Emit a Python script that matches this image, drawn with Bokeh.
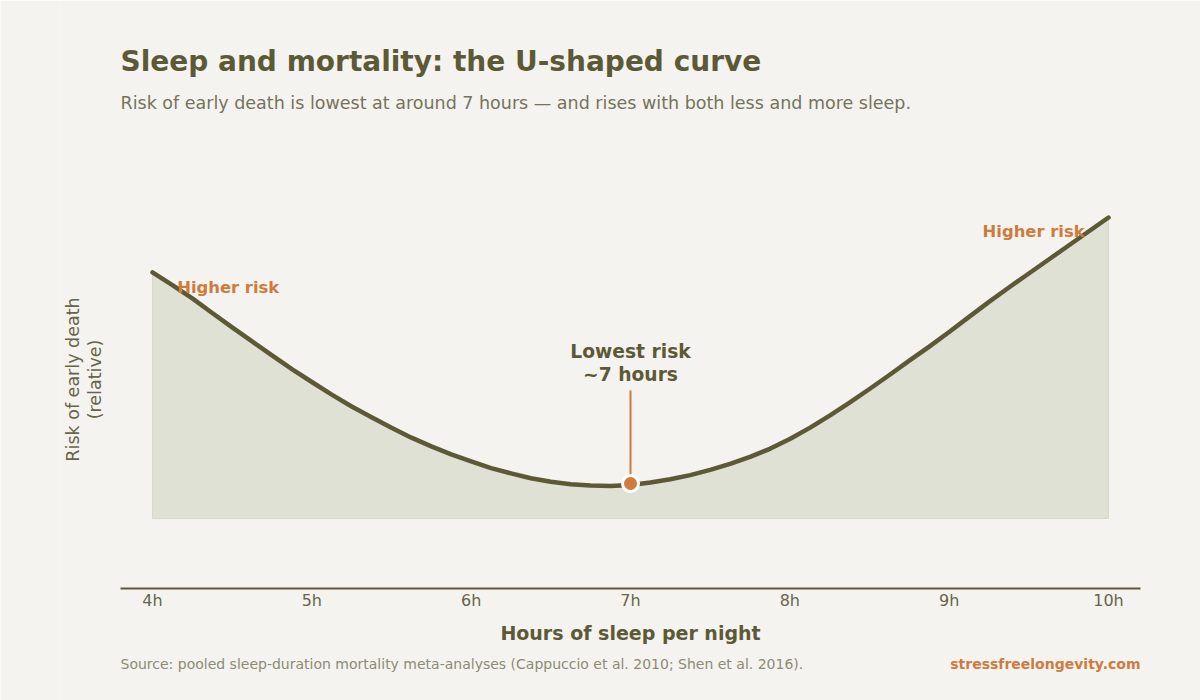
#U-shaped curve of sleep duration vs relative risk of early death

from math import pi
from bokeh.plotting import figure
from bokeh.models import Range1d, FixedTicker, Label
from bokeh.core.properties import value
from bokeh.embed import file_html
from bokeh.resources import INLINE


# data (relative risk, 7h ~ 1.0)

hours = [4.0, 4.125, 4.25, 4.375, 4.5, 4.625, 4.75, 4.875,
         5.0, 5.125, 5.25, 5.375, 5.5, 5.625, 5.75, 5.875,
         6.0, 6.125, 6.25, 6.375, 6.5, 6.625, 6.75, 6.875,
         7.0, 7.125, 7.25, 7.375, 7.5, 7.625, 7.75, 7.875,
         8.0, 8.125, 8.25, 8.375, 8.5, 8.625, 8.75, 8.875,
         9.0, 9.125, 9.25, 9.375, 9.5, 9.625, 9.75, 9.875, 10.0]
risk = [1.603, 1.567, 1.529, 1.487, 1.446, 1.406, 1.366, 1.327,
        1.290, 1.254, 1.220, 1.189, 1.159, 1.131, 1.106, 1.083,
        1.063, 1.044, 1.029, 1.015, 1.005, 0.998, 0.994, 0.993,
        0.996, 1.003, 1.012, 1.024, 1.039, 1.056, 1.076, 1.099,
        1.127, 1.159, 1.194, 1.231, 1.270, 1.310, 1.351, 1.391,
        1.433, 1.476, 1.519, 1.560, 1.600, 1.640, 1.680, 1.720, 1.760]
baseline = 0.9
axis_level = 0.7

tick_hours = [4, 5, 6, 7, 8, 9, 10]
tick_labels = ["4h", "5h", "6h", "7h", "8h", "9h", "10h"]

best_hour = [7.0]
best_risk = [1.0]
leader_top = [1.266]

note_x = [7.0, 7.0]
note_y = [1.376, 1.312]
note_text = ["Lowest risk", "~7 hours"]

high_left = dict(x=[4.155], y=[1.561], text=["Higher risk"])
high_right = dict(x=[9.85], y=[1.721], text=["Higher risk"])

FONT = "DejaVu Sans"
OLIVE = "#5c5a36"
MUTED = "#66654a"
ORANGE = "#cf7b3e"
FILL = "#e0e1d5"
BG = "#f4f3ef"


# one figure; frame spans x 60..1200 and the full height,
# the x axis is pinned at axis_level so the footer can sit in the frame too
p = figure(
    width=1200, height=700,
    x_range=Range1d(3.42259, 10.57741), y_range=Range1d(0.38, 2.38),
    y_axis_type=None,
    output_backend="svg", toolbar_location=None,
    min_border_left=60, min_border_right=0,
    min_border_top=0, min_border_bottom=0,
)
p.background_fill_color = BG
p.border_fill_color = BG
p.outline_line_color = None
p.grid.visible = False

# area + curve
p.varea(x=hours, y1=baseline, y2=risk, fill_color=FILL)
p.patch(hours + [hours[-1], hours[0]], risk + [baseline, baseline],
        fill_color=None, line_color="#d7d9ca", line_width=1)
p.line(hours, risk, line_color=OLIVE, line_width=4.5, line_cap="round", line_join="round")

# lowest risk marker
p.segment(x0=best_hour, y0=leader_top, x1=best_hour, y1=best_risk,
          line_color=ORANGE, line_width=2)
p.scatter(best_hour, best_risk, size=16, fill_color=ORANGE, line_color="white", line_width=3)

p.text(x=note_x, y=note_y, text=note_text, text_align="center", text_baseline="alphabetic",
       text_font=value(FONT), text_font_style="bold", text_font_size="18.7px", text_color=OLIVE)
p.text(x="x", y="y", text="text", source=high_left, text_align="left",
       text_baseline="alphabetic", text_font=value(FONT), text_font_style="bold",
       text_font_size="16.4px", text_color=ORANGE)
p.text(x="x", y="y", text="text", source=high_right, text_align="right",
       text_baseline="alphabetic", text_font=value(FONT), text_font_style="bold",
       text_font_size="16.4px", text_color=ORANGE)

# x axis
xa = p.xaxis[0]
xa.fixed_location = axis_level
xa.bounds = (3.8, 10.2)
xa.ticker = FixedTicker(ticks=tick_hours)
xa.major_label_overrides = dict(zip(tick_hours, tick_labels))
xa.axis_line_color = OLIVE
xa.axis_line_width = 2
xa.major_tick_line_color = None
xa.minor_tick_line_color = None
xa.major_tick_out = 0
xa.major_tick_in = 0
xa.major_label_standoff = 2
xa.major_label_text_font = FONT
xa.major_label_text_font_size = "16px"
xa.major_label_text_color = MUTED
xa.axis_label = "Hours of sleep per night"
xa.axis_label_standoff = 9
xa.axis_label_text_font = FONT
xa.axis_label_text_font_size = "19px"
xa.axis_label_text_font_style = "bold"
xa.axis_label_text_color = OLIVE

# headings, y label and footer (screen units, from frame bottom-left)
def label(x, y, text, size, color, bold=False, align="left", angle=0):
    return Label(x=x, y=y, x_units="screen", y_units="screen", text=text,
                 text_font=FONT, text_font_size=size, text_color=color,
                 text_font_style="bold" if bold else "normal",
                 text_align=align, text_baseline="alphabetic", angle=angle)

p.add_layout(label(60, 639.5, "Sleep and mortality: the U-shaped curve", "28px", OLIVE, bold=True))
p.add_layout(label(60, 597.7,
                   "Risk of early death is lowest at around 7 hours \u2014 and rises with both less and more sleep.",
                   "17.5px", "#75735a"))
p.add_layout(label(12, 321, "Risk of early death", "17.5px", MUTED, align="center", angle=pi / 2))
p.add_layout(label(34.7, 321, "(relative)", "17.5px", MUTED, align="center", angle=pi / 2))
p.add_layout(label(60, 36.7,
                   "Source: pooled sleep-duration mortality meta-analyses (Cappuccio et al. 2010; Shen et al. 2016).",
                   "14px", "#8c8b74"))
p.add_layout(label(1080, 36.7, "stressfreelongevity.com", "14px", ORANGE, bold=True, align="right"))

open("out.html", "w").write(file_html(p, INLINE))
